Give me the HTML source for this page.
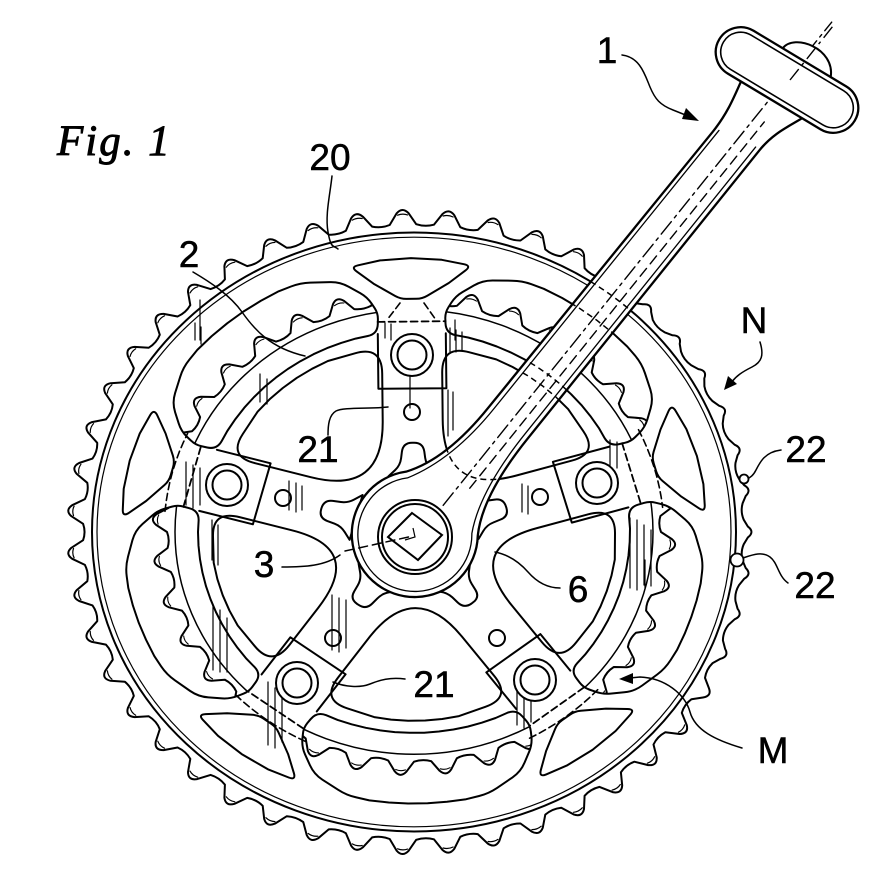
<!DOCTYPE html>
<html><head><meta charset="utf-8">
<style>
html,body{margin:0;padding:0;background:#fff;}
svg{display:block;}
.lb{font-family:"Liberation Sans",Arial,sans-serif;font-size:37px;fill:#000;stroke:#000;stroke-width:0.5;}
.fig{font-family:"Liberation Serif","Times New Roman",serif;font-style:italic;font-size:43px;fill:#000;stroke:#000;stroke-width:0.9;}
</style></head>
<body>
<svg id="s" width="894" height="880" viewBox="0 0 894 880" xmlns="http://www.w3.org/2000/svg">
<defs>
<clipPath id="crc"><path transform="translate(415 534) rotate(38.8)" d="M-22,-145 L-20,-500 C-20,-530 -28,-548 -34,-575 L44,-575 C38,-555 28,-540 28,-515 L28,-145 Q28,-72 50,-38 A63,63 0 1 1 -46,-43 Q-22,-78 -22,-145 Z"/></clipPath>
</defs>
<rect width="894" height="880" fill="#fff"/>
<g id="gen" fill="none" stroke="#000" stroke-width="2" stroke-linejoin="round" stroke-linecap="round"></g>

<!-- crank arm -->
<g transform="translate(415 534) rotate(38.8)" stroke="#000" stroke-linejoin="round" stroke-linecap="round">
<path d="M-22,-145 L-20,-500 C-20,-530 -28,-548 -34,-575 L44,-575 C38,-555 28,-540 28,-515 L28,-145 Q28,-72 50,-38 A63,63 0 1 1 -46,-43 Q-22,-78 -22,-145 Z" fill="#fff" stroke-width="2.3"/>
<path d="M-16,-505 L-17,-148 Q-17,-82 -41,-39 A57,57 0 1 0 44,-36 Q23,-74 23,-148 L23,-515" fill="none" stroke-width="1.3"/>
</g>
<g id="gen2" clip-path="url(#crc)" fill="none" stroke="#000" stroke-width="1.5" stroke-dasharray="6 4"></g>
<g transform="translate(415 534) rotate(38.8)" stroke="#000" fill="none" stroke-linecap="round">
<line x1="4" y1="-40" x2="4" y2="-660" stroke-width="1.4" stroke-dasharray="16 5 3 5"/>
<line x1="14" y1="-70" x2="14" y2="-540" stroke-width="1.4" stroke-dasharray="10 6"/>
</g>
<!-- spindle -->
<g fill="none" stroke="#000" stroke-width="2">
<circle cx="415" cy="537" r="37" fill="#fff"/>
<circle cx="415" cy="537" r="33"/>
<path d="M412,513 L442,535 L418,560 L388,537 Z"/>
<path d="M405,540 L415,537 L413,528" stroke-width="1.2"/>
</g>
<!-- pedal -->
<g transform="translate(787 80) rotate(31)" stroke="#000" stroke-linejoin="round">
<path d="M-20,-25 C-18,-44 25,-52 36,-25" fill="#fff" stroke-width="2"/>
<rect x="-79" y="-25" width="158" height="50" rx="25" fill="#fff" stroke-width="2.3"/>
<rect x="-74" y="-20" width="148" height="40" rx="20" fill="none" stroke-width="1.6"/>
</g>
<line x1="790" y1="80" x2="833" y2="26" stroke="#000" stroke-width="1.4" stroke-dasharray="14 5 3 5"/>

<!-- leaders -->
<g fill="none" stroke="#000" stroke-width="1.5" stroke-linecap="round">
<path d="M622,55 C640,57 645,75 650,87 S660,105 673,110 L688,116"/>
<path d="M760,342 C764,355 762,362 752,367 S736,376 731,383"/>
<path d="M781,450 C765,452 760,462 756,470 S748,478 744,481"/>
<path d="M788,583 C778,576 778,563 770,557 S752,555 743,558"/>
<path d="M742,748 C715,740 695,730 690,712 S665,678 640,677 L630,678"/>
<path d="M560,588 C545,588 535,580 528,572 S510,555 495,552"/>
<path d="M282,567 C305,567 325,566 340,555"/>
<path d="M345,551 L413,536" stroke-dasharray="9 5"/>
<path d="M405,679 C390,677 380,680 370,684 S345,687 333,682"/>
<path d="M328,435 C328,425 329,415 336,411 S370,409 388,407"/>
<path d="M332,176 C330,195 325,215 328,232 S333,245 338,249"/>
<path d="M193,272 C210,282 230,295 242,312 S270,348 305,356"/>
</g>
<g fill="#000" stroke="none">
<path d="M699,121 L682,119 L686,108 Z"/>
<path d="M724,390 L728,376 L737,384 Z"/>
<path d="M619,679 L633,673 L633,684 Z"/>
</g>
<circle cx="737" cy="560" r="6.5" fill="#fff" stroke="#000" stroke-width="1.8"/>
<circle cx="744" cy="479" r="4.5" fill="#fff" stroke="#000" stroke-width="1.8"/>

<!-- labels -->
<text class="fig" x="57" y="155" letter-spacing="2">Fig. 1</text>
<text class="lb" x="607" y="63" text-anchor="middle">1</text>
<text class="lb" x="330" y="170" text-anchor="middle">20</text>
<text class="lb" x="189" y="267" text-anchor="middle">2</text>
<text class="lb" x="754" y="333" text-anchor="middle">N</text>
<text class="lb" x="318" y="462" text-anchor="middle">21</text>
<text class="lb" x="806" y="462" text-anchor="middle">22</text>
<text class="lb" x="264" y="577" text-anchor="middle">3</text>
<text class="lb" x="815" y="598" text-anchor="middle">22</text>
<text class="lb" x="578" y="602" text-anchor="middle">6</text>
<text class="lb" x="434" y="697" text-anchor="middle">21</text>
<text class="lb" x="773" y="763" text-anchor="middle">M</text>
</svg>
<script>
(function(){
var CX=414, CY=532, K=0.93, D=Math.PI/180;
function E(r,a){return [CX+r*Math.cos(a*D), CY+K*r*Math.sin(a*D)];}
function Ep(x,y){return [CX+x, CY+K*y];}
function f(p){return p[0].toFixed(1)+','+p[1].toFixed(1);}
function pv(r,a,rad){var p=E(r,a);return [p[0],p[1],rad||0];}
function rshape(V,cap){
  cap=cap||0.5; var n=V.length, d='';
  for(var i=0;i<n;i++){
    var P=V[(i-1+n)%n], C=V[i], N=V[(i+1)%n];
    if(C[2]>0){
      var l1=Math.hypot(P[0]-C[0],P[1]-C[1]), l2=Math.hypot(N[0]-C[0],N[1]-C[1]);
      var t1=Math.min(C[2]/l1,cap), t2=Math.min(C[2]/l2,cap);
      var a=[C[0]+(P[0]-C[0])*t1, C[1]+(P[1]-C[1])*t1], b=[C[0]+(N[0]-C[0])*t2, C[1]+(N[1]-C[1])*t2];
      d+=(i?'L':'M')+f(a)+'Q'+f(C)+' '+f(b);
    } else d+=(i?'L':'M')+f(C);
  }
  return d+'Z';
}
function wgt(a){
  a=((a+180)%360+360)%360-180;
  if(a<-60||a>38) return 0;
  if(a<-44) return (a+60)/16;
  if(a>20) return (38-a)/18;
  return 1;
}
function teeth(N,RT,RR,ph,mod){
  var p=360/N, d='';
  for(var i=0;i<N;i++){
    var a=ph+i*p, w=mod?wgt(a):0, rt=RT-9*w, rr=RR-1*w;
    var an=a+p, wn=mod?wgt(an):0, rrn=RR-1*wn;
    d+=(i?'L':'M')+f(E(rr,a-0.3*p))+'L'+f(E(rt-5,a-0.13*p))+'Q'+f(E(rt+2,a))+' '+f(E(rt-5,a+0.13*p))+'L'+f(E(rr,a+0.3*p))+'Q'+f(E((rr+rrn)/2-3,a+0.5*p))+' '+f(E(rrn,a+0.7*p));
  }
  return d+'Z';
}
function marks(N,rt,ph,mod){
  var p=360/N, d='';
  for(var i=0;i<N;i++){var a=ph+i*p; if(mod&&wgt(a)>0.3)continue; d+='M'+f(E(rt-7,a-0.11*p))+'Q'+f(E(rt-5,a))+' '+f(E(rt-7,a+0.11*p));}
  return d;
}
function arc(r,a0,a1,n){var d='M'+f(E(r,a0));for(var j=1;j<=n;j++)d+='L'+f(E(r,a0+(a1-a0)*j/n));return d;}
var TH=[-90.6,-16.1,52.7,125.8,195.1], RB=[190.3,190.4,199.9,200.1,193.7];
var RI=216, RO=292;
function kidney(ta,tb){
  var V=[pv(RI,ta+9.1,10),pv(238,ta+8.1,6),pv(257,ta+9.9,8),pv(279,ta+14.8,10),pv(291,ta+22.4,10)];
  var a0=ta+27,a1=tb-27,n=Math.max(1,Math.round((a1-a0)/4)),j;
  for(j=0;j<=n;j++)V.push(pv(RO,a0+(a1-a0)*j/n));
  V.push(pv(291,tb-22.4,10),pv(279,tb-14.8,10),pv(257,tb-9.9,8),pv(238,tb-8.1,6),pv(RI,tb-9.1,10));
  var b0=tb-15.1,b1=ta+15.1,m=Math.max(1,Math.round((b0-b1)/4));
  for(j=0;j<=m;j++)V.push(pv(RI,b0+(b1-b0)*j/m));
  return rshape(V);
}
function hole(t){
  return rshape([pv(292,t-12,8),pv(294,t-6),pv(294.5,t),pv(294,t+6),pv(292,t+12,8),pv(270,t+8),pv(251,t+2.5,6),pv(251,t-2.5,6),pv(270,t-8)]);
}
function win(ti,tj){
  var w=30, ro=203;
  var di=[Math.cos(ti*D),Math.sin(ti*D)], pi=[-di[1],di[0]];
  var dj=[Math.cos(tj*D),Math.sin(tj*D)], pj=[-dj[1],dj[0]];
  var so=Math.sqrt(ro*ro-w*w);
  var Oi=Ep(so*di[0]+w*pi[0], so*di[1]+w*pi[1]);
  var Oj=Ep(so*dj[0]-w*pj[0], so*dj[1]-w*pj[1]);
  var half=(tj-ti)/2, bis=ti+half, dist=w/Math.sin(half*D);
  var In=Ep(dist*Math.cos(bis*D), dist*Math.sin(bis*D));
  var ang=Math.asin(w/ro)/D;
  var V=[[In[0],In[1],75],[Oi[0],Oi[1],28]];
  var a0=ti+ang+16, a1=tj-ang-16, n=Math.max(1,Math.round((a1-a0)/5));
  for(var j=0;j<=n;j++)V.push(pv(ro,a0+(a1-a0)*j/n));
  V.push([Oj[0],Oj[1],28]);
  return rshape(V);
}
function local(t,r){var d=[Math.cos(t*D),Math.sin(t*D)],p=[-d[1],d[0]];return function(u,v,rad){var q=Ep((r+u)*d[0]+v*p[0],(r+u)*d[1]+v*p[1]);return [q[0],q[1],rad||0];};}
var out='', kd='';
var pairs=[[TH[0],TH[1]],[TH[1],TH[2]],[TH[2],TH[3]],[TH[3],TH[4]],[TH[4],TH[0]+360]];
pairs.forEach(function(p){kd+=kidney(p[0],p[1]);});
out+='<clipPath id="kc"><path d="'+kd+'"/></clipPath>';
out+='<g clip-path="url(#kc)"><path d="'+teeth(36,263,247,3,false)+'" stroke-width="2"/><path d="'+marks(36,263,3,false)+'" stroke-width="1.1"/><ellipse cx="'+CX+'" cy="'+CY+'" rx="239" ry="'+(239*K)+'" stroke-width="1.5"/></g>';
out+='<path d="'+teeth(47,348,331,0,true)+'" stroke-width="2"/>';
out+='<path d="'+marks(47,348,0,true)+'" stroke-width="1.2"/>';
out+='<ellipse cx="'+CX+'" cy="'+CY+'" rx="322" ry="'+(322*K)+'"/>';
out+='<ellipse cx="'+CX+'" cy="'+CY+'" rx="317" ry="'+(317*K)+'" stroke-width="1.2"/>';
out+='<path d="'+kd+'"/>';
var hd='';TH.forEach(function(t){hd+=hole(t);});
out+='<path d="'+hd+'"/>';
var wd='';pairs.forEach(function(p){wd+=win(p[0],p[1]);});
out+='<path d="'+wd+'"/>';
var pd='',pdd='',hid='',hats='';
TH.forEach(function(t,i){
  var L=local(t,RB[i]); var ut=Math.sqrt(RI*RI-34*34)-RB[i];
  pd+='M'+f(L(ut,-34))+'L'+f(L(-36,-34))+'L'+f(L(-36,34))+'L'+f(L(ut,34));
  pdd+='M'+f(L(36,-34))+'L'+f(L(36,34));
  if(i>0) hid+=arc(250,t-10,t+10,8);
  var H=local(t,0);
  hats+=rshape([H(60,-25),H(72,-13,7),H(96,-10,9),H(96,10,9),H(72,13,7),H(60,25)]);
});
out+='<path d="'+pd+'"/>';
out+='<path d="'+pdd+'" stroke-dasharray="7 4" stroke-width="1.8"/>';
out+='<path d="'+hid+'M400,303L387,320M424,303L436,320" stroke-dasharray="7 4" stroke-width="1.6"/>';
out+='<path d="'+hats+'"/>';
[[412,412],[283,498],[540,497],[333,638],[497,638]].forEach(function(c){out+='<circle cx="'+c[0]+'" cy="'+c[1]+'" r="8"/>';});
var H=[[195,323,340],[201,327,344],[260,374,402],[267,379,404],[385,323,338],[391,324,340],[450,328,352],[456,330,352],[462,332,350],[410,373,408],[448,390,436],[453,392,430],[522,484,512],[528,486,514],[438,465,495],[445,468,497],[289,481,510],[296,483,512],[302,486,510],[478,465,502],[485,468,500],[186,462,505],[193,465,508],[200,468,505],[213,605,670],[220,610,672],[227,618,672],[268,682,745],[275,688,748],[282,695,742],[332,595,650],[339,598,652],[346,600,648],[517,670,725],[524,673,728],[531,680,722],[630,518,588],[637,520,590],[644,525,585],[651,530,580],[645,560,588],[651,562,586],[455,320,340],[610,440,470],[617,442,468],[212,520,560],[218,525,565],[200,300,340]];
var hh='';H.forEach(function(h){hh+='M'+h[0]+','+h[1]+'L'+h[0]+','+h[2];});
out+='<path d="'+hh+'" stroke-width="1.2"/>';
[[412,355],[597,483],[535,680],[297,683],[227,485]].forEach(function(b){out+='<circle cx="'+b[0]+'" cy="'+b[1]+'" r="21" fill="#fff"/><circle cx="'+b[0]+'" cy="'+b[1]+'" r="14.5"/>';});
document.getElementById('gen').innerHTML=out;
var o2='<path d="'+kd+'"/><ellipse cx="'+CX+'" cy="'+CY+'" rx="322" ry="'+(322*K)+'"/><path d="'+wd+'"/><path d="'+arc(250,-100,-80,6)+'"/>';
document.getElementById('gen2').innerHTML=o2;
})();
</script>
</body></html>
